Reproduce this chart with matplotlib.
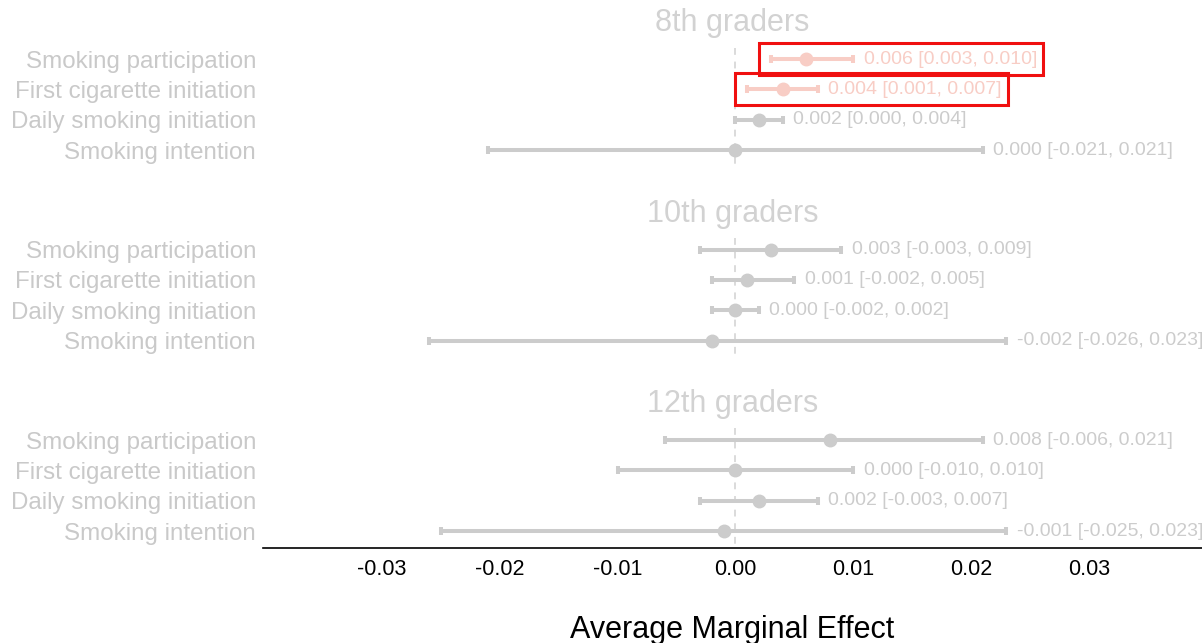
import matplotlib
matplotlib.use("Agg")
import matplotlib.pyplot as plt
import matplotlib.transforms as mtransforms
from matplotlib.patches import Rectangle

# Data
groups = ["8th graders", "10th graders", "12th graders"]
outcomes = [
    "Smoking participation",
    "First cigarette initiation",
    "Daily smoking initiation",
    "Smoking intention",
]
estimates = [
    [0.006, 0.004, 0.002, 0.000],
    [0.003, 0.001, 0.000, -0.002],
    [0.008, 0.000, 0.002, -0.001],
]
ci_low = [
    [0.003, 0.001, 0.000, -0.021],
    [-0.003, -0.002, -0.002, -0.026],
    [-0.006, -0.010, -0.003, -0.025],
]
ci_high = [
    [0.010, 0.007, 0.004, 0.021],
    [0.009, 0.005, 0.002, 0.023],
    [0.021, 0.010, 0.007, 0.023],
]
highlight = [
    [True, True, False, False],
    [False, False, False, False],
    [False, False, False, False],
]
x_ticks = [-0.03, -0.02, -0.01, 0.00, 0.01, 0.02, 0.03]

GREY = "#cccccc"
TEXT_GREY = "#c9c9c9"
PINK = "#f8cdc5"
GROUP_STEP = 6.28

fig = plt.figure(figsize=(12.02, 6.43), dpi=100)
ax = fig.add_axes([263 / 1202, 95 / 643, 1 - 263 / 1202, 1 - 95 / 643])
title_tf = mtransforms.blended_transform_factory(ax.transAxes, ax.transData)

ytick_pos = []
ytick_lab = []
value_texts = []
for g, group in enumerate(groups):
    base = g * GROUP_STEP
    # dashed zero line for this panel
    ax.plot([0, 0], [base - 0.38, base + 3.62], ls=(0, (3.5, 3.5)),
            color="#dadada", lw=1.4, zorder=1, clip_on=False)
    ax.text(0.5, base - 1.18, group, transform=title_tf,
            ha="center", va="center", fontsize=22, color="#d2d2d2",
            family="Liberation Sans")
    for r, name in enumerate(outcomes):
        y = base + r
        est = estimates[g][r]
        lo = ci_low[g][r]
        hi = ci_high[g][r]
        col = PINK if highlight[g][r] else GREY
        ax.errorbar([est], [y], xerr=[[est - lo], [hi - est]], fmt="o",
                    color=col, ms=9, elinewidth=2.9, capsize=3, capthick=2.9,
                    zorder=3)
        t = ax.annotate(f"{est:.3f} [{lo:.3f}, {hi:.3f}]", xy=(hi, y),
                        xytext=(7.5, 0), textcoords="offset points",
                        ha="left", va="center", fontsize=14, color=col,
                        family="Liberation Sans", annotation_clip=False)
        value_texts.append((t, lo, y, highlight[g][r]))
        ytick_pos.append(y)
        ytick_lab.append(name)

ax.set_xlim(-0.0401, 0.0396)
ax.set_ylim(2 * GROUP_STEP + 3 + 0.56, -1.947)
ax.set_xticks(x_ticks)
ax.set_xticklabels([f"{v:.2f}" for v in x_ticks], fontsize=15.5,
                   family="Liberation Sans")
ax.set_yticks(ytick_pos)
ax.set_yticklabels(ytick_lab, fontsize=17.4, color=TEXT_GREY,
                   family="Liberation Sans")
ax.tick_params(axis="both", length=0)
ax.tick_params(axis="x", pad=8)
ax.tick_params(axis="y", pad=5)
ax.set_xlabel("Average Marginal Effect", fontsize=22, family="Liberation Sans",
              labelpad=25)
for side in ["top", "right", "left"]:
    ax.spines[side].set_visible(False)
ax.spines["bottom"].set_linewidth(1.2)

# red boxes around highlighted estimates
fig.canvas.draw()
renderer = fig.canvas.get_renderer()
inv = ax.transData.inverted()
for t, lo, y, hl in value_texts:
    if not hl:
        continue
    bb = t.get_window_extent(renderer)
    x_lo_px, y_px = ax.transData.transform((lo, y))
    x0, y0 = inv.transform((x_lo_px - 12, y_px - 16))
    x1, y1 = inv.transform((bb.x1 + 6, y_px + 16))
    ax.add_patch(Rectangle((x0, y0), x1 - x0, y1 - y0, fill=False,
                           edgecolor="#f01010", lw=2.2, zorder=5,
                           clip_on=False))

fig.savefig("out.png", dpi=100)
